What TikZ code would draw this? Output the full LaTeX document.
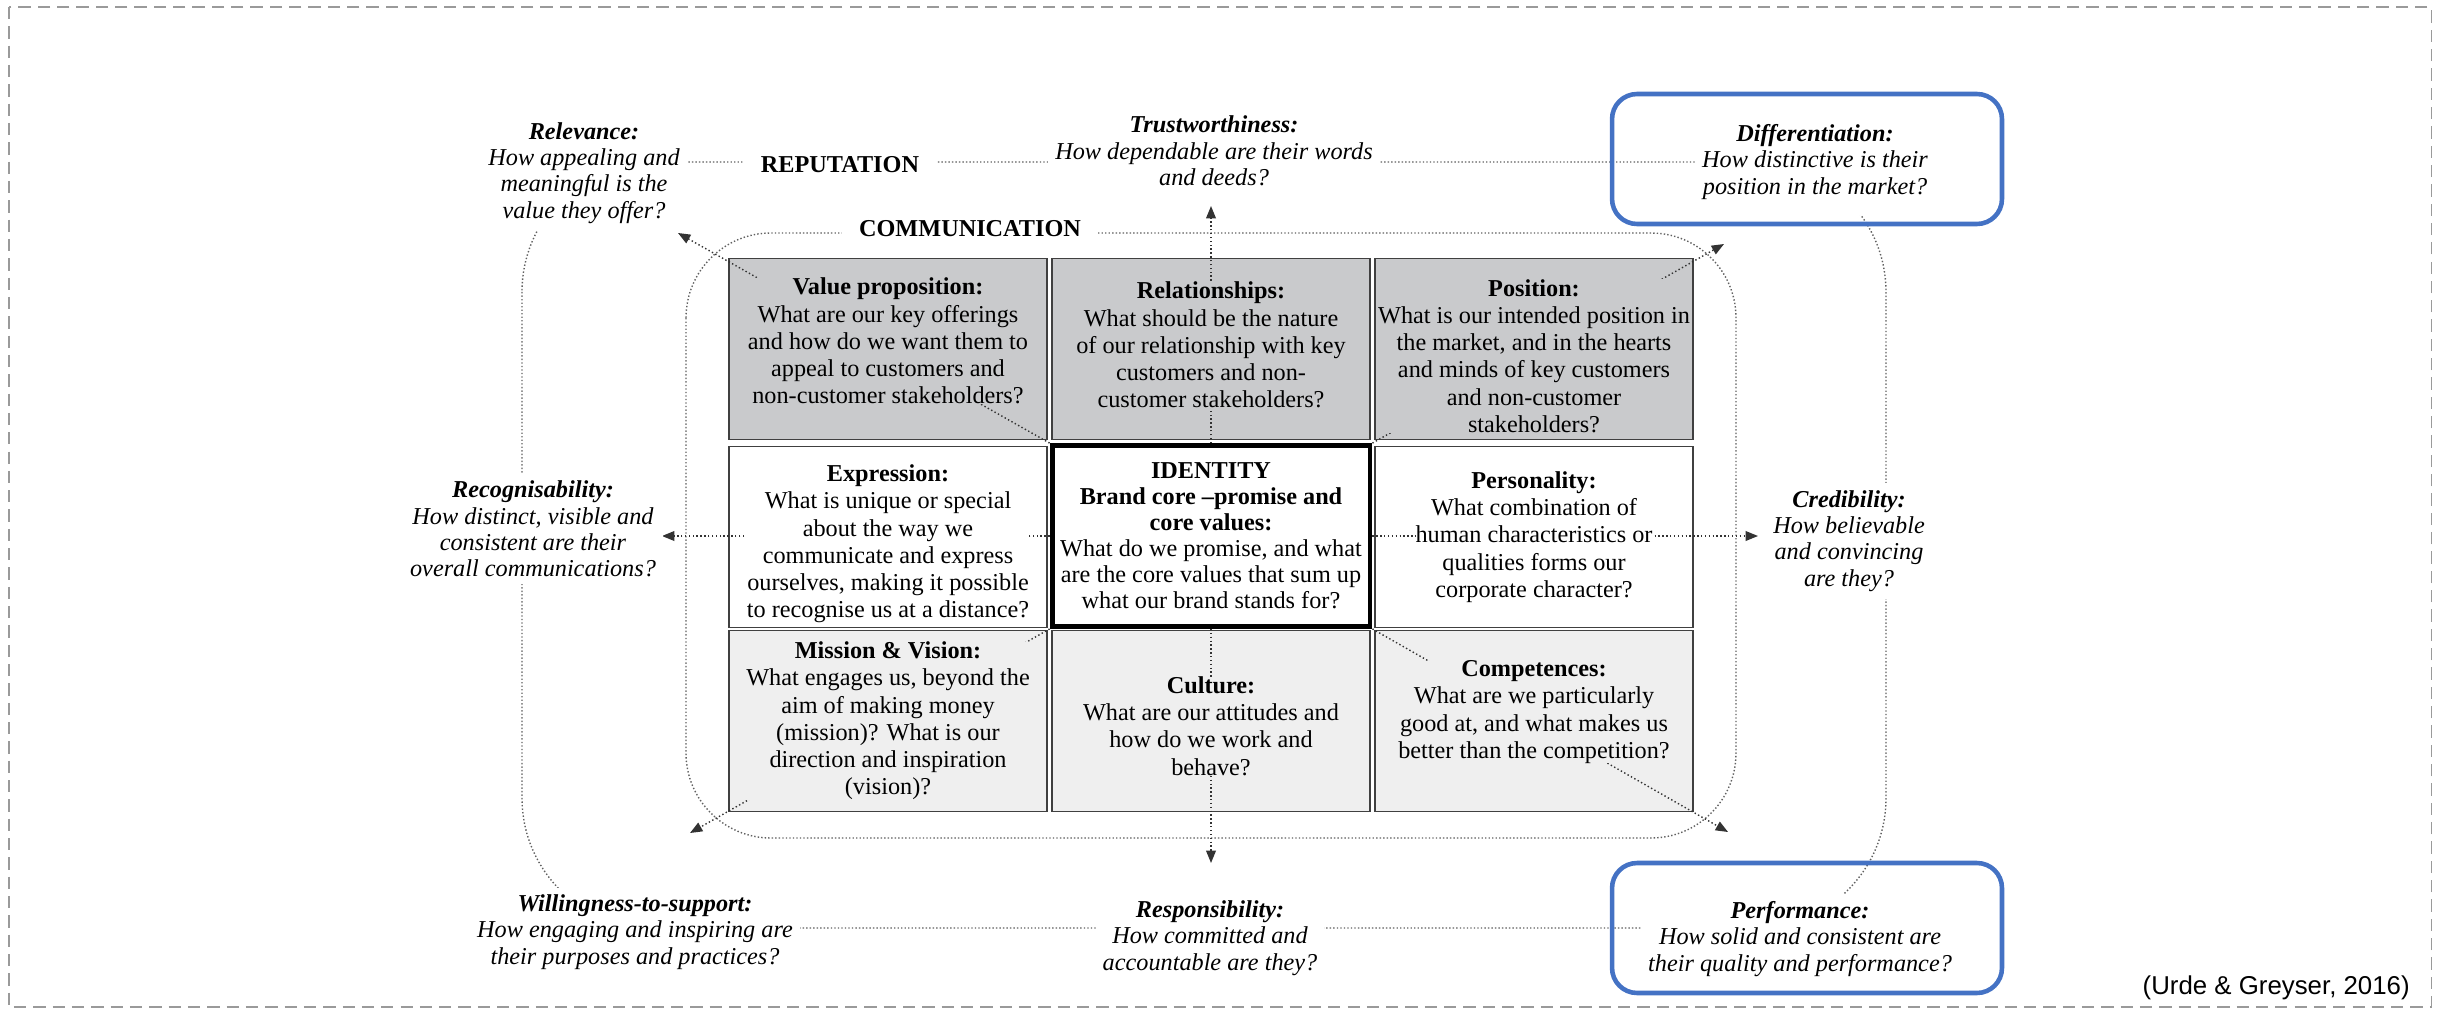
\documentclass[tikz,border=0pt]{standalone}
\usepackage{fontspec}
\setmainfont{Liberation Serif}
\newfontfamily\citefont{Liberation Sans}
\usetikzlibrary{arrows.meta, positioning}
\definecolor{cellgray}{HTML}{C9CACC}
\definecolor{celllight}{HTML}{EFEFEF}
\definecolor{boxblue}{HTML}{4472C4}
\definecolor{framegray}{HTML}{9A9A9A}

\begin{document}
\begin{tikzpicture}[
    x=0.02cm, y=-0.02cm,
    cell/.style={rectangle, draw=black!75, line width=1pt, minimum width=6.36cm,
                 minimum height=3.62cm, inner sep=0pt},
    celltext/.style={inner sep=0pt, align=center, font=\fontsize{13.8}{15.5}\selectfont},
    quest/.style={fill=white, inner sep=4pt, align=center, font=\fontsize{13.8}{15}\selectfont\itshape},
    ringtitle/.style={fill=white, inner xsep=10pt, inner ysep=2pt, font=\fontsize{13.8}{15}\selectfont\bfseries},
    ring/.style={draw=black!62, line width=0.8pt, dash pattern=on 0.8pt off 1.2pt},
    flow/.style={draw=black!80, line width=0.8pt, dash pattern=on 0.8pt off 1.4pt,
                 -{Triangle[length=7pt,width=5.5pt]}},
    hilite/.style={draw=boxblue, line width=2.6pt, rounded corners=0.5cm,
                   minimum width=7.8cm, minimum height=2.6cm}
]
\useasboundingbox (0,0) rectangle (2440,1014);
\draw[framegray, line width=0.6pt, dash pattern=on 7pt off 4pt] (9,7) rectangle (2431,1007);

\draw[ring, rounded corners=2.6cm] (522,162) rectangle (1886,928);
\draw[ring, rounded corners=1.7cm] (686,233) rectangle (1736,838);

\node[cell, fill=cellgray]   (vp)   at (888,349)  {};
\node[cell, fill=cellgray]   (rel)  at (1211,349) {};
\node[cell, fill=cellgray]   (pos)  at (1534,349) {};
\node[cell, fill=white]      (expr) at (888,537)  {};
\node[cell, fill=white]      (pers) at (1534,537) {};
\node[cell, fill=celllight]  (mis)  at (888,721)  {};
\node[cell, fill=celllight]  (cul)  at (1211,721) {};
\node[cell, fill=celllight]  (comp) at (1534,721) {};
\node[cell, fill=white, draw=black, line width=2.8pt, align=center,
      font=\fontsize{13.8}{14.8}\selectfont] (idt) at (1211,536)
      {\textbf{IDENTITY}\\\textbf{Brand core --promise and}\\\textbf{core values:}\\What do we promise, and what\\are the core values that sum up\\what our brand stands for?};

\coordinate (relTip)   at (678,233);
\coordinate (diffTip)  at (1724,244);
\coordinate (willTip)  at (690,833);
\coordinate (perfTip)  at (1728,832);
\coordinate (trustTip) at (1208,206);
\coordinate (respTip)  at (1208,863);
\coordinate (recTip)   at (662,537);
\coordinate (credTip)  at (1758,537);

\draw[flow] (idt.north west) -- (relTip);
\draw[flow] (idt.north east) -- (diffTip);
\draw[flow] (idt.south west) -- (willTip);
\draw[flow] (idt.south east) -- (perfTip);
\draw[flow] (idt.north) -- (idt.north |- trustTip);
\draw[flow] (idt.south) -- (idt.south |- respTip);
\draw[flow] (idt.west)  -- (idt.west -| recTip);
\draw[flow] (idt.east)  -- (idt.east -| credTip);

\node[celltext, fill=cellgray]  (vpt)   at (888,341)  {\textbf{Value proposition:}\\What are our key offerings\\and how do we want them to\\appeal to customers and\\non-customer stakeholders?};
\node[celltext, fill=cellgray]  (relt)  at (1211,345) {\textbf{Relationships:}\\What should be the nature\\of our relationship with key\\customers and non-\\customer stakeholders?};
\node[celltext, fill=cellgray]  (post)  at (1534,356) {\textbf{Position:}\\What is our intended position in\\the market, and in the hearts\\and minds of key customers\\and non-customer\\stakeholders?};
\node[celltext, fill=white]     (exprt) at (888,544)  {\textbf{Expression:}\\What is unique or special\\about the way we\\communicate and express\\ourselves, making it possible\\to recognise us at a distance?};
\node[celltext, fill=white]     (perst) at (1534,537) {\textbf{Personality:}\\What combination of\\human characteristics or\\qualities forms our\\corporate character?};
\node[celltext, fill=celllight] (mist)  at (888,721)  {\textbf{Mission \& Vision:}\\What engages us, beyond the\\aim of making money\\(mission)? What is our\\direction and inspiration\\(vision)?};
\node[celltext, fill=celllight] (cult)  at (1211,726) {\textbf{Culture:}\\What are our attitudes and\\how do we work and\\behave?};
\node[celltext, fill=celllight] (compt) at (1534,712) {\textbf{Competences:}\\What are we particularly\\good at, and what makes us\\better than the competition?};

\node[quest] (relv)  at (584,173)  {\textbf{Relevance:}\\How appealing and\\meaningful is the\\value they offer?};
\node[quest] (trust) at (1214,151) {\textbf{Trustworthiness:}\\How dependable are their words\\and deeds?};
\node[quest, inner ysep=9pt] (diff) at (1815,162) {\textbf{Differentiation:}\\How distinctive is their\\position in the market?};
\node[quest] (rec)   at (533,529)  {\textbf{Recognisability:}\\How distinct, visible and\\consistent are their\\overall communications?};
\node[quest] (cred)  at (1849,541) {\textbf{Credibility:}\\How believable\\and convincing\\are they?};
\node[quest] (will)  at (635,932)  {\textbf{Willingness-to-support:}\\How engaging and inspiring are\\their purposes and practices?};
\node[quest] (resp)  at (1210,938) {\textbf{Responsibility:}\\How committed and\\accountable are they?};
\node[quest] (perf)  at (1800,939) {\textbf{Performance:}\\How solid and consistent are\\their quality and performance?};

\node[ringtitle] (repu) at (840,165) {REPUTATION};
\node[ringtitle] (comm) at (970,229) {COMMUNICATION};

\node[hilite] (diffbox) at (1807,159) {};
\node[hilite] (perfbox) at (1807,928) {};

\node[font=\citefont\fontsize{14.7}{16}\selectfont, anchor=east, inner sep=0pt] (cite) at (2410,988) {(Urde \& Greyser, 2016)};
\end{tikzpicture}
\end{document}
